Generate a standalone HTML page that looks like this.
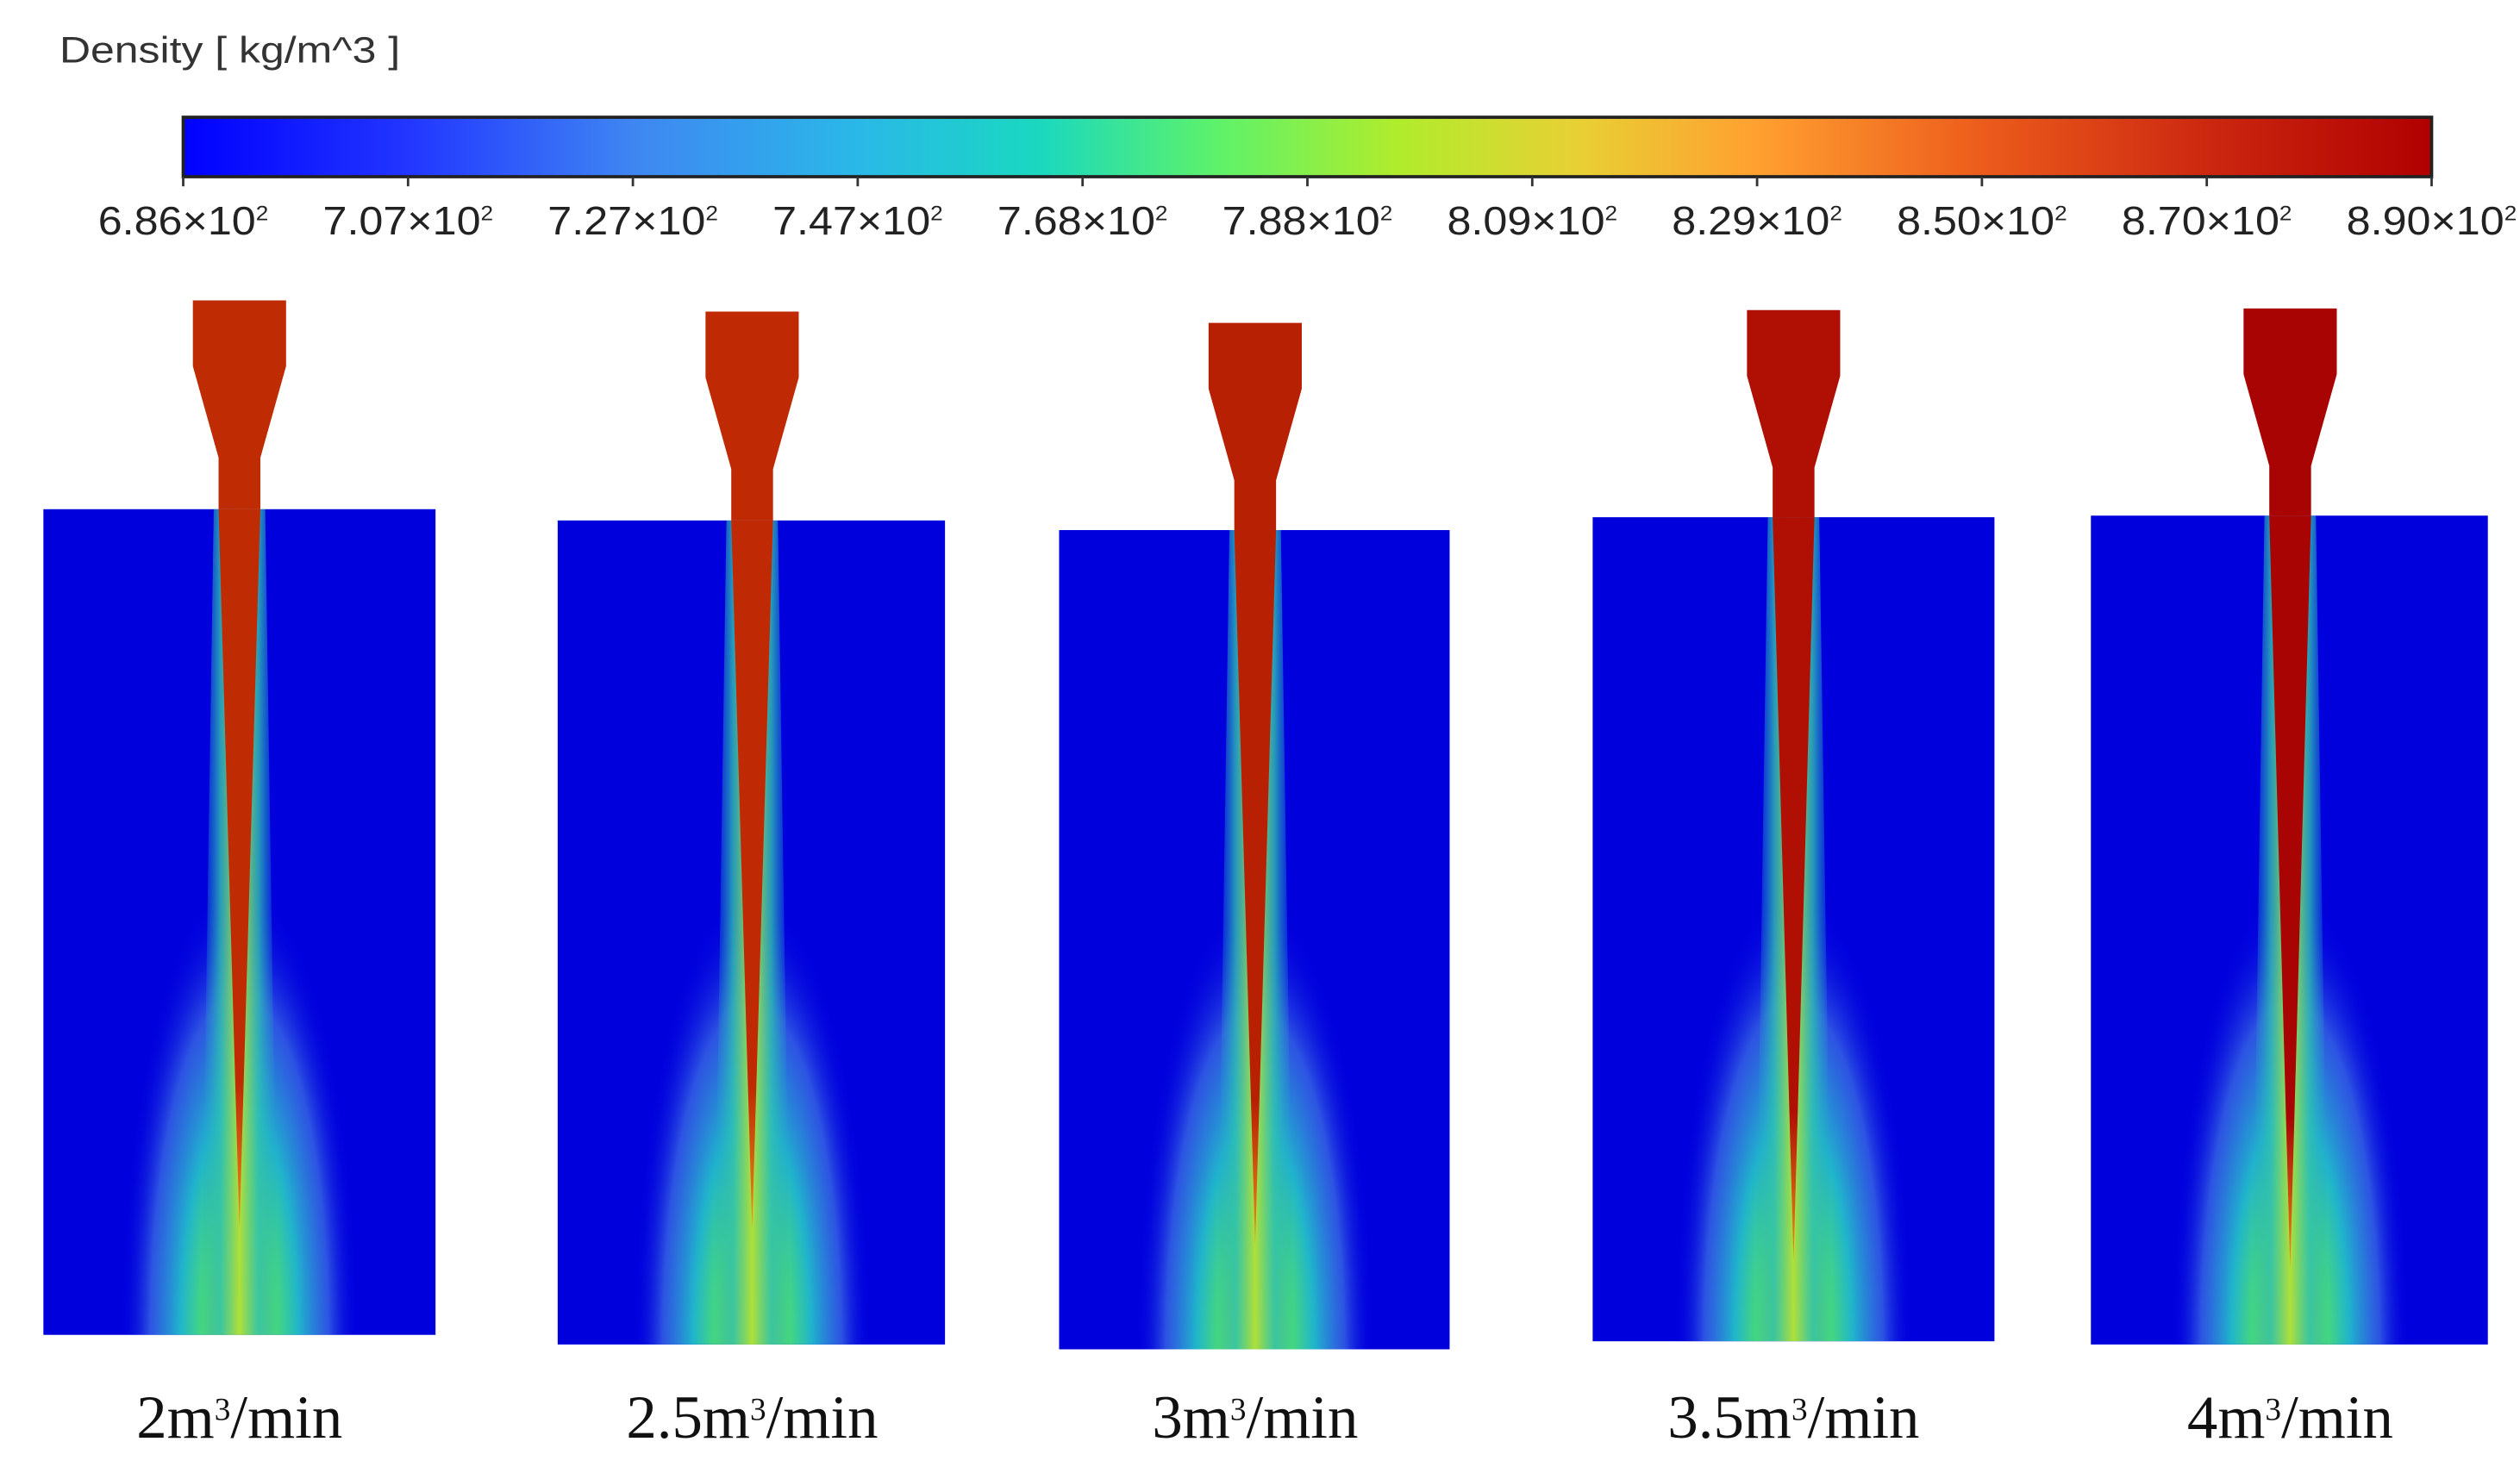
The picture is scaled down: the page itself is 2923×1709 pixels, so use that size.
<!DOCTYPE html>
<html><head><meta charset="utf-8">
<style>
html,body{margin:0;padding:0;background:#fff;overflow:hidden;width:2923px;height:1709px;}
svg{display:block;}
</style></head>
<body>
<svg id="fig" width="2923" height="1709" viewBox="0 0 1568 917" preserveAspectRatio="none" xmlns="http://www.w3.org/2000/svg">
<defs>
<linearGradient id="jet" x1="0" x2="1" y1="0" y2="0">
<stop offset="0" stop-color="#0000ff"/>
<stop offset="0.1" stop-color="#2236ff"/>
<stop offset="0.2" stop-color="#3f86f2"/>
<stop offset="0.3" stop-color="#2ab8e8"/>
<stop offset="0.38" stop-color="#1ad8c0"/>
<stop offset="0.46" stop-color="#5ef26a"/>
<stop offset="0.54" stop-color="#b0ec2c"/>
<stop offset="0.62" stop-color="#e8d034"/>
<stop offset="0.7" stop-color="#ffa030"/>
<stop offset="0.8" stop-color="#ec5c1c"/>
<stop offset="0.9" stop-color="#cc2810"/>
<stop offset="1" stop-color="#b00000"/>
</linearGradient>
<radialGradient id="plume" cx="0.5" cy="0.5" r="0.5">
<stop offset="0" stop-color="#90e038"/>
<stop offset="0.3" stop-color="#48da78"/>
<stop offset="0.5" stop-color="#20b4cc"/>
<stop offset="0.75" stop-color="#3c70e4" stop-opacity="0.75"/>
<stop offset="1" stop-color="#0000dd" stop-opacity="0"/>
</radialGradient>
<linearGradient id="edge" x1="0" x2="1" y1="0" y2="0">
<stop offset="0" stop-color="#20a0d0" stop-opacity="0"/>
<stop offset="0.25" stop-color="#30c0b0" stop-opacity="0.8"/>
<stop offset="0.5" stop-color="#b0e038"/>
<stop offset="0.75" stop-color="#30c0b0" stop-opacity="0.8"/>
<stop offset="1" stop-color="#20a0d0" stop-opacity="0"/>
</linearGradient>
</defs>
<text x="37" y="39" font-family="Liberation Sans, sans-serif" font-size="23" fill="#333" textLength="212" lengthAdjust="spacingAndGlyphs">Density [ kg/m^3 ]</text>
<rect x="114" y="73" width="1399" height="37" fill="url(#jet)" stroke="#222" stroke-width="2"/>
<g id="ticks"></g>
<g id="panels"></g>
</svg>
<script>
const tickLabels = ["6.86","7.07","7.27","7.47","7.68","7.88","8.09","8.29","8.50","8.70","8.90"];
const flowRates = [2, 2.5, 3, 3.5, 4];
const flowLabels = ["2","2.5","3","3.5","4"];
const rectLeft = [27, 347, 659, 991, 1301];
const rectRight = [271, 588, 902, 1241, 1548];
const rectTop = [317, 324, 330, 322, 321];
const rectBottom = [831, 837, 840, 835, 837];
const jetCenter = [149, 468, 781, 1116, 1425];
const nozzleTop = [187, 194, 201, 193, 192];
const nozzleColor = ["#bf2c04","#bf2a04","#b82004","#b01004","#a80404"];
const tipY = [765, 765, 775, 785, 790];

const NS = "http://www.w3.org/2000/svg";
function el(tag, attrs, parent){const e=document.createElementNS(NS,tag);for(const k in attrs)e.setAttribute(k,attrs[k]);parent.appendChild(e);return e;}
const svg=document.getElementById('fig');
const defs=svg.querySelector('defs');
const cbX0=114, cbX1=1513;
const tickX = i => cbX0 + (cbX1-cbX0)*i/(tickLabels.length-1);
const tg=document.getElementById('ticks');
tickLabels.forEach((t,i)=>{
  const x=tickX(i);
  const l=el('line',{x1:x,x2:x,y1:110,y2:116,stroke:'#333','stroke-width':1.5},tg);
  
  
  const tx=el('text',{x:x,y:146,'text-anchor':'middle','font-family':'Liberation Sans, sans-serif','font-size':25,fill:'#222',textLength:106,lengthAdjust:'spacingAndGlyphs'},tg);
  
  
  tx.textContent=t+"×10";
  const s=el('tspan',{dy:-9,'font-size':13},tx); s.textContent="2";
});
const pg=document.getElementById('panels');
flowRates.forEach((f,i)=>{
  const g=el('g',{},pg);
  
  
  const L=rectLeft[i],R=rectRight[i],T=rectTop[i],B=rectBottom[i];
  const cx=jetCenter[i];
  const cp=el('clipPath',{id:'clip'+i},defs);
  el('rect',{x:L,y:T,width:R-L,height:B-T},cp);
  const r=el('rect',{x:L,y:T,width:R-L,height:B-T,fill:'#0000dd'},g);
  
  
  const inner=el('g',{'clip-path':`url(#clip${i})`},g);
  const h=B-T;
  const p=el('ellipse',{cx:cx,cy:B,rx:74,ry:h*0.55,fill:'url(#plume)'},inner);
  
  
  const e=el('polygon',{points:`${cx-16},${T} ${cx+16},${T} ${cx+24},${B} ${cx-24},${B}`,fill:'url(#edge)'},inner);
  
  
  const top=nozzleTop[i];
  const col=nozzleColor[i];
  const n=el('polygon',{points:`${cx-29},${top} ${cx+29},${top} ${cx+29},${top+41} ${cx+13},${top+98} ${cx+13},${T} ${cx-13},${T} ${cx-13},${top+98} ${cx-29},${top+41}`,fill:col},g);
  
  
  const gid='tip'+i;
  const lg=el('linearGradient',{id:gid,x1:0,x2:0,y1:0,y2:1},defs);
  el('stop',{offset:0,'stop-color':col},lg);
  el('stop',{offset:0.8,'stop-color':col},lg);
  el('stop',{offset:1,'stop-color':'#e89020'},lg);
  const s=el('polygon',{points:`${cx-13},${T} ${cx+13},${T} ${cx},${tipY[i]}`,fill:`url(#${gid})`},g);
  
  
  const lb=el('text',{x:cx,y:895,'text-anchor':'middle','font-family':'Liberation Serif, serif','font-size':38,fill:'#111'},g);
  
  
  lb.textContent=flowLabels[i]+"m";
  const sp=el('tspan',{dy:-11,'font-size':20},lb); sp.textContent="3";
  const sp2=el('tspan',{dy:11},lb); sp2.textContent="/min";
});
</script>
</body></html>
